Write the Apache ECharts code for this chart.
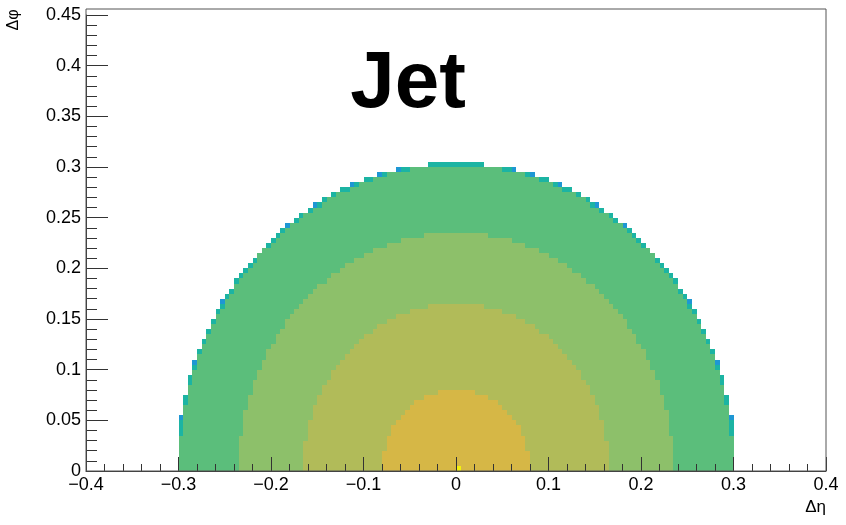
<!DOCTYPE html>
<html>
<head>
<meta charset="utf-8">
<script src="https://cdn.jsdelivr.net/npm/echarts@6/dist/echarts.min.js"></script>
<style>
html,body{margin:0;padding:0;background:#fff;}
#chart{width:846px;height:525px;}
</style>
</head>
<body>
<div id="chart"></div>
<script>
// ---- data ----
const binWidthEta = 0.005;          // histogram bin width in Δη
const binWidthPhi = 0.005;          // histogram bin width in Δφ
const etaRange = [-0.3, 0.3];       // filled Δη range
const phiRange = [0.0, 0.305];      // filled Δφ range
const jetRadiusEta = 0.300;         // outer edge of the filled region along Δη
const jetRadiusPhi = 0.302;         // outer edge of the filled region along Δφ
const bandOuterRadius = [0.08, 0.165, 0.235, 0.30];   // ΔR boundaries of the colour bands
const bandColor = ['#D6B746', '#B1BB59', '#8DC06A', '#5BBE7B'];
const edgeColor = ['#1CB4A3', '#1E97D4'];             // partially filled rim bins
const peakCell = [0.0, 0.0];        // single highest bin (Δη, Δφ lower edges)
const peakColor = '#F4F20C';
const xTicks = [-0.4, -0.3, -0.2, -0.1, 0, 0.1, 0.2, 0.3, 0.4];
const yTicks = [0, 0.05, 0.1, 0.15, 0.2, 0.25, 0.3, 0.35, 0.4, 0.45];

// ---- build histogram bins ----
const palette = bandColor.concat(edgeColor, [peakColor]);
const nEta = Math.round((etaRange[1] - etaRange[0]) / binWidthEta);
const nPhi = Math.round((phiRange[1] - phiRange[0]) / binWidthPhi);
function coverage(e0, p0) {
  let inside = 0, n = 10;
  for (let a = 0; a < n; a++) for (let b = 0; b < n; b++) {
    const e = e0 + (a + 0.5) / n * binWidthEta;
    const p = p0 + (b + 0.5) / n * binWidthPhi;
    if ((e / jetRadiusEta) ** 2 + (p / jetRadiusPhi) ** 2 <= 1) inside++;
  }
  return inside / (n * n);
}
const runs = [];
for (let j = 0; j < nPhi; j++) {
  const p0 = phiRange[0] + j * binWidthPhi;
  let cur = null;
  for (let i = 0; i < nEta; i++) {
    const e0 = etaRange[0] + i * binWidthEta;
    const f = coverage(e0, p0);
    let c = -1;
    if (f >= 0.05) {
      if (Math.abs(e0 - peakCell[0]) < 1e-9 && Math.abs(p0 - peakCell[1]) < 1e-9) c = palette.length - 1;
      else if (f >= 0.6) {
        const r = Math.hypot(e0 + binWidthEta / 2, p0 + binWidthPhi / 2);
        c = bandOuterRadius.findIndex(R => r < R);
        if (c < 0) c = bandOuterRadius.length - 1;
      } else if (f >= 0.12) c = bandColor.length;
      else c = bandColor.length + 1;
    }
    if (cur && cur[4] === c) { cur[1] = e0 + binWidthEta; }
    else {
      if (cur && cur[4] >= 0) runs.push(cur);
      cur = [e0, e0 + binWidthEta, p0, p0 + binWidthPhi, c];
    }
  }
  if (cur && cur[4] >= 0) runs.push(cur);
}

const FONT = '"Liberation Sans", Arial, Helvetica, sans-serif';
const chart = echarts.init(document.getElementById('chart'), null, {renderer: 'canvas'});
function fmt(v) {
  const s = String(Number(Math.abs(v).toFixed(3)));
  return v < -1e-9 ? '\u2212' + s : s;
}
chart.setOption({
  animation: false,
  backgroundColor: '#fff',
  grid: {left: 86, right: 20, top: 15, bottom: 54, show: false},
  xAxis: {
    type: 'value', min: xTicks[0], max: xTicks[xTicks.length - 1], interval: 0.1, z: 10,
    axisLine: {show: true, onZero: false, lineStyle: {color: '#333', width: 1}},
    axisTick: {show: true, inside: true, length: 14, lineStyle: {color: '#333'}},
    minorTick: {show: true, splitNumber: 5, length: 7, lineStyle: {color: '#333'}},
    splitLine: {show: false},
    axisLabel: {formatter: fmt, color: '#000', fontFamily: FONT, fontSize: 18, margin: 5}
  },
  yAxis: {
    type: 'value', min: yTicks[0], max: yTicks[yTicks.length - 1], interval: 0.05, z: 10,
    axisLine: {show: true, onZero: false, lineStyle: {color: '#333', width: 1}},
    axisTick: {show: true, inside: true, length: 22, lineStyle: {color: '#333'}},
    minorTick: {show: true, splitNumber: 5, length: 11, lineStyle: {color: '#333'}},
    splitLine: {show: false},
    axisLabel: {formatter: fmt, color: '#000', fontFamily: FONT, fontSize: 18, margin: 5}
  },
  series: [{
    type: 'custom',
    z: 1,
    data: runs,
    encode: {x: [0, 1], y: [2, 3]},
    renderItem: function (params, api) {
      const a = api.coord([api.value(0), api.value(3)]);
      const b = api.coord([api.value(1), api.value(2)]);
      const x0 = Math.round(a[0]), y0 = Math.round(a[1]);
      const x1 = Math.round(b[0]), y1 = Math.round(b[1]);
      const col = palette[api.value(4)];
      return {
        type: 'rect',
        shape: {x: x0, y: y0, width: x1 - x0, height: y1 - y0},
        style: {fill: col}
      };
    }
  }],
  graphic: [
    {type: 'rect', z: 100, shape: {x: 86, y: 9, width: 740, height: 462},
     style: {fill: 'none', stroke: '#555', lineWidth: 1}},
    {type: 'text', z: 100, x: 408, y: 85,
     style: {text: 'Jet', font: 'bold 80px ' + FONT, fill: '#000', align: 'center', verticalAlign: 'middle'}},
    {type: 'text', z: 100, x: 14, y: 20, rotation: Math.PI / 2,
     style: {text: '\u0394\u03c6', font: '16px ' + FONT, fill: '#000', align: 'center', verticalAlign: 'middle'}},
    {type: 'text', z: 100, x: 826, y: 507,
     style: {text: '\u0394\u03b7', font: '17px ' + FONT, fill: '#000', align: 'right', verticalAlign: 'middle'}}
  ]
});
</script>
</body>
</html>
